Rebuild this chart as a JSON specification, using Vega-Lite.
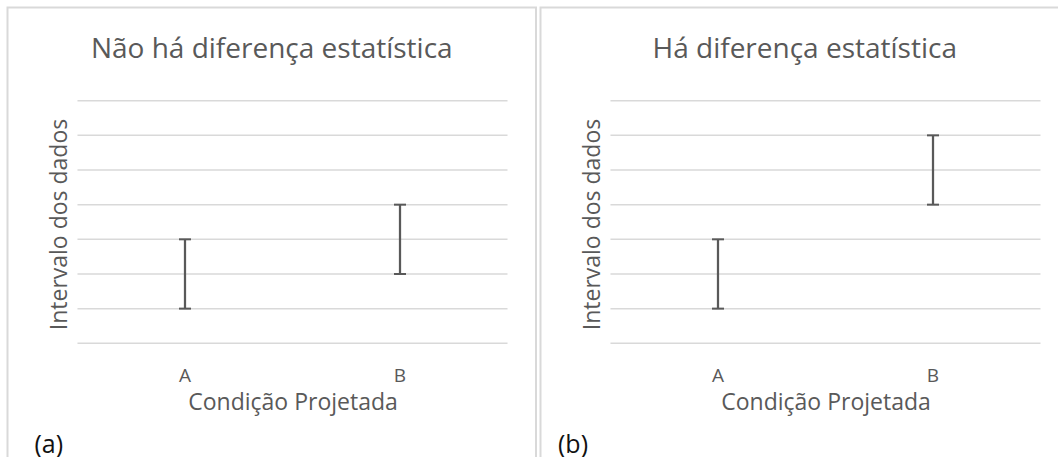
{
  "$schema": "https://vega.github.io/schema/vega-lite/v6.json",
  "background": "white",
  "padding": {"left": 6.5, "top": 6.5, "right": 0, "bottom": 0},
  "spacing": 2,
  "datasets": {
    "intervalos": [
      {"painel": "a", "condicao": "A", "minimo": 1, "maximo": 3},
      {"painel": "a", "condicao": "B", "minimo": 2, "maximo": 4},
      {"painel": "b", "condicao": "A", "minimo": 1, "maximo": 3},
      {"painel": "b", "condicao": "B", "minimo": 4, "maximo": 6}
    ],
    "grade": [
      {"nivel": 0}, {"nivel": 1}, {"nivel": 2}, {"nivel": 3},
      {"nivel": 4}, {"nivel": 5}, {"nivel": 6}, {"nivel": 7}
    ]
  },
  "hconcat": [
    {
      "title": {"text": "(a)", "orient": "bottom", "anchor": "start", "frame": "group", "baseline": "alphabetic", "offset": -16, "dx": 27, "fontSize": 25, "color": "#111111"},
      "vconcat": [
        {
          "width": 528.5,
          "height": 460,
          "title": {"text": "Não há diferença estatística", "anchor": "middle", "frame": "group", "baseline": "alphabetic", "offset": -78.3, "fontSize": 28},
          "layer": [
            {
              "data": {"name": "grade"},
              "mark": {"type": "rule", "color": "#d9d9d9", "strokeWidth": 1.5},
              "encoding": {
                "x": {"datum": "A", "type": "nominal", "bandPosition": 0,
                      "scale": {"type": "band", "paddingInner": 0, "paddingOuter": 0.229, "align": 0.7107},
                      "axis": {"orient": "bottom", "offset": -124.2, "domain": false, "ticks": false, "tickSize": 0, "grid": false, "labelAngle": 0, "labelFontSize": 19, "labelPadding": 23.4, "title": "Condição Projetada", "titleFontSize": 23, "titleX": 285, "titleY": 66, "titleBaseline": "alphabetic"}},
                "x2": {"datum": "B", "bandPosition": 1},
                "y": {"field": "nivel", "type": "quantitative",
                      "scale": {"domain": [-3.584, 9.689], "nice": false, "zero": false},
                      "axis": {"orient": "left", "offset": -70, "domain": false, "ticks": false, "tickSize": 0, "labels": false, "grid": false, "title": "Intervalo dos dados", "titleFontSize": 23, "titlePadding": 6, "titleY": 216.5}}
              }
            },
            {
              "data": {"name": "intervalos"},
              "transform": [{"filter": "datum.painel === 'a'"}],
              "mark": {"type": "rule", "color": "#595959", "strokeWidth": 2.25},
              "encoding": {
                "x": {"field": "condicao", "type": "nominal",
                      "scale": {"type": "band", "paddingInner": 0, "paddingOuter": 0.229, "align": 0.7107}},
                "y": {"field": "minimo", "type": "quantitative",
                      "scale": {"domain": [-3.584, 9.689], "nice": false, "zero": false}},
                "y2": {"field": "maximo"}
              }
            },
            {
              "data": {"name": "intervalos"},
              "transform": [{"filter": "datum.painel === 'a'"}],
              "mark": {"type": "tick", "color": "#595959", "thickness": 2, "size": 12, "orient": "horizontal", "opacity": 1},
              "encoding": {
                "x": {"field": "condicao", "type": "nominal"},
                "y": {"field": "minimo", "type": "quantitative"}
              }
            },
            {
              "data": {"name": "intervalos"},
              "transform": [{"filter": "datum.painel === 'a'"}],
              "mark": {"type": "tick", "color": "#595959", "thickness": 2, "size": 12, "orient": "horizontal", "opacity": 1},
              "encoding": {
                "x": {"field": "condicao", "type": "nominal"},
                "y": {"field": "maximo", "type": "quantitative"}
              }
            }
          ]
        }
      ]
    },
    {
      "title": {"text": "(b)", "orient": "bottom", "anchor": "start", "frame": "group", "baseline": "alphabetic", "offset": -16, "dx": 17.5, "fontSize": 25, "color": "#111111"},
      "vconcat": [
        {
          "width": 528.5,
          "height": 460,
          "title": {"text": "Há diferença estatística", "anchor": "middle", "frame": "group", "baseline": "alphabetic", "offset": -78.3, "fontSize": 28},
          "layer": [
            {
              "data": {"name": "grade"},
              "mark": {"type": "rule", "color": "#d9d9d9", "strokeWidth": 1.5},
              "encoding": {
                "x": {"datum": "A", "type": "nominal", "bandPosition": 0,
                      "scale": {"type": "band", "paddingInner": 0, "paddingOuter": 0.229, "align": 0.7107},
                      "axis": {"orient": "bottom", "offset": -124.2, "domain": false, "ticks": false, "tickSize": 0, "grid": false, "labelAngle": 0, "labelFontSize": 19, "labelPadding": 23.4, "title": "Condição Projetada", "titleFontSize": 23, "titleX": 285, "titleY": 66, "titleBaseline": "alphabetic"}},
                "x2": {"datum": "B", "bandPosition": 1},
                "y": {"field": "nivel", "type": "quantitative",
                      "scale": {"domain": [-3.584, 9.689], "nice": false, "zero": false},
                      "axis": {"orient": "left", "offset": -70, "domain": false, "ticks": false, "tickSize": 0, "labels": false, "grid": false, "title": "Intervalo dos dados", "titleFontSize": 23, "titlePadding": 6, "titleY": 216.5}}
              }
            },
            {
              "data": {"name": "intervalos"},
              "transform": [{"filter": "datum.painel === 'b'"}],
              "mark": {"type": "rule", "color": "#595959", "strokeWidth": 2.25},
              "encoding": {
                "x": {"field": "condicao", "type": "nominal",
                      "scale": {"type": "band", "paddingInner": 0, "paddingOuter": 0.229, "align": 0.7107}},
                "y": {"field": "minimo", "type": "quantitative",
                      "scale": {"domain": [-3.584, 9.689], "nice": false, "zero": false}},
                "y2": {"field": "maximo"}
              }
            },
            {
              "data": {"name": "intervalos"},
              "transform": [{"filter": "datum.painel === 'b'"}],
              "mark": {"type": "tick", "color": "#595959", "thickness": 2, "size": 12, "orient": "horizontal", "opacity": 1},
              "encoding": {
                "x": {"field": "condicao", "type": "nominal"},
                "y": {"field": "minimo", "type": "quantitative"}
              }
            },
            {
              "data": {"name": "intervalos"},
              "transform": [{"filter": "datum.painel === 'b'"}],
              "mark": {"type": "tick", "color": "#595959", "thickness": 2, "size": 12, "orient": "horizontal", "opacity": 1},
              "encoding": {
                "x": {"field": "condicao", "type": "nominal"},
                "y": {"field": "maximo", "type": "quantitative"}
              }
            }
          ]
        }
      ]
    }
  ],
  "config": {
    "font": "Open Sans",
    "view": {"stroke": "#d9d9d9", "strokeWidth": 2},
    "axis": {"labelFont": "Open Sans", "titleFont": "Open Sans", "labelColor": "#595959", "titleColor": "#595959", "titleFontWeight": "normal"},
    "title": {"font": "Open Sans", "color": "#595959", "fontWeight": "normal"}
  }
}
